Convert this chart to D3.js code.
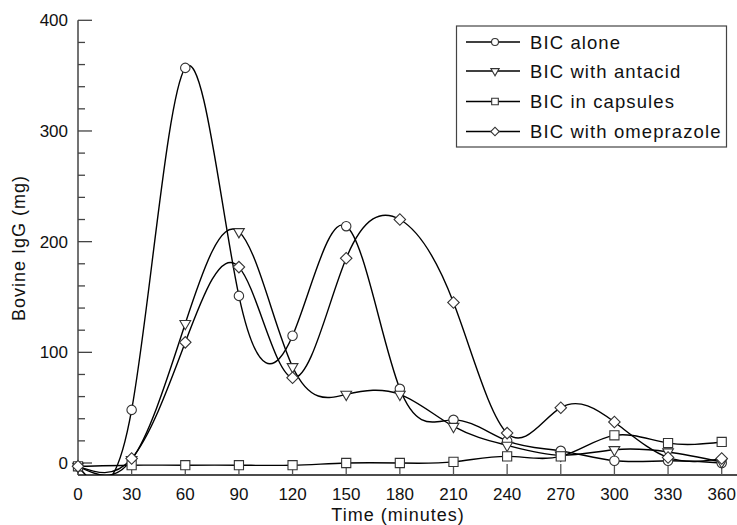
<!DOCTYPE html>
<html>
<head>
<meta charset="utf-8">
<script src="https://cdn.jsdelivr.net/npm/d3@7"></script>
<style>
  body { margin: 0; background: #fff; }
  text { font-family: "Liberation Sans", Arial, sans-serif; fill: #111; }
</style>
</head>
<body>
<svg id="canvas"></svg>
<script>
const times = [0, 30, 60, 90, 120, 150, 180, 210, 240, 270, 300, 330, 360];
const alone = [-3, 48, 357, 151, 115, 214, 67, 39, 20, 11, 2, 2, 0];
const antacid = [-3, 3, 126, 209, 87, 62, 62, 33, 16, 7, 12, 10, 1];
const capsules = [-3, -2, -2, -2, -2, 0, 0, 1, 6, 6, 25, 18, 19];
const omeprazole = [-3, 4, 109, 177, 77, 185, 220, 145, 27, 50, 37, 5, 4];
const seriesNames = ["BIC alone", "BIC with antacid", "BIC in capsules", "BIC with omeprazole"];
const yTicks = [0, 100, 200, 300, 400];

const width = 737;
const height = 525;

const canvas = d3.select("#canvas")
    .attr("width", width)
    .attr("height", height);

const xScale = d3.scaleLinear()
    .domain([0, 360])
    .range([78, 721.7]);
const yScale = d3.scaleLinear()
    .domain([0, 400])
    .range([463, 20.3]);
const yBottom = 475;

canvas.append("clipPath")
    .attr("id", "plot-clip")
    .append("rect")
    .attr("x", 78).attr("y", 0)
    .attr("width", width - 78).attr("height", yBottom);

// y axis, ticks pointing inwards
const yg = canvas.append("g").attr("transform", "translate(78,0)");
yg.append("line")
    .attr("x1", 0).attr("x2", 0)
    .attr("y1", yScale(400)).attr("y2", yBottom)
    .attr("stroke", "#444").attr("stroke-width", 1.5);
yg.selectAll(".ytick")
    .data(d3.range(0, 401, 20))
    .enter()
    .append("line")
    .attr("x1", 0)
    .attr("x2", d => d % 100 === 0 ? 14 : 7)
    .attr("y1", d => yScale(d))
    .attr("y2", d => yScale(d))
    .attr("stroke", "#444").attr("stroke-width", 1.3);
yg.selectAll(".ylab")
    .data(yTicks)
    .enter()
    .append("text")
    .attr("x", -10)
    .attr("y", d => yScale(d) + 6)
    .attr("text-anchor", "end")
    .attr("font-size", 17)
    .text(d => d);

// x axis, ticks pointing up
const xg = canvas.append("g");
xg.append("line")
    .attr("x1", 78).attr("x2", 737)
    .attr("y1", yBottom).attr("y2", yBottom)
    .attr("stroke", "#111").attr("stroke-width", 1.5);
xg.selectAll(".xtick")
    .data(times)
    .enter()
    .append("line")
    .attr("x1", d => xScale(d))
    .attr("x2", d => xScale(d))
    .attr("y1", yBottom)
    .attr("y2", yBottom - 11)
    .attr("stroke", "#555").attr("stroke-width", 1.3);
xg.selectAll(".xlab")
    .data(times)
    .enter()
    .append("text")
    .attr("x", d => xScale(d))
    .attr("y", 500)
    .attr("text-anchor", "middle")
    .attr("font-size", 17)
    .text(d => d);

canvas.append("text")
    .attr("x", 398)
    .attr("y", 521)
    .attr("text-anchor", "middle")
    .attr("font-size", 18)
    .attr("letter-spacing", 1)
    .text("Time (minutes)");
canvas.append("text")
    .attr("transform", "translate(25,248) rotate(-90)")
    .attr("text-anchor", "middle")
    .attr("font-size", 18)
    .attr("letter-spacing", 1)
    .text("Bovine IgG (mg)");

// circle, down-triangle, square, diamond (square turned 45deg)
const symbols = [
    d3.symbol().type(d3.symbolCircle).size(70),
    d3.symbol().type(d3.symbolTriangle).size(50),
    d3.symbol().type(d3.symbolSquare).size(84),
    d3.symbol().type(d3.symbolSquare).size(66)
];
const turn = [0, 180, 0, 45];
const allSeries = [alone, antacid, capsules, omeprazole];

const line = d3.line()
    .x((d, i) => xScale(times[i]))
    .y(d => yScale(d))
    .curve(d3.curveNatural);

const lines = canvas.append("g").attr("clip-path", "url(#plot-clip)");
allSeries.forEach((vals, s) => {
    lines.append("path")
        .datum(vals)
        .attr("d", line)
        .attr("fill", "none")
        .attr("stroke", "#000")
        .attr("stroke-width", 1.4);
});

allSeries.forEach((vals, s) => {
    canvas.selectAll(".m" + s)
        .data(vals)
        .enter()
        .append("path")
        .attr("d", symbols[s])
        .attr("transform", (d, i) => `translate(${xScale(times[i])},${yScale(d)}) rotate(${turn[s]})`)
        .attr("fill", "#fff")
        .attr("stroke", "#333")
        .attr("stroke-width", 1.1);
});

// legend
const legend = canvas.append("g");
legend.append("rect")
    .attr("x", 456.5).attr("y", 26)
    .attr("width", 270).attr("height", 121)
    .attr("fill", "#fff")
    .attr("stroke", "#444").attr("stroke-width", 1.2);
const legendSymbols = [
    d3.symbol().type(d3.symbolCircle).size(38),
    d3.symbol().type(d3.symbolTriangle).size(30),
    d3.symbol().type(d3.symbolSquare).size(44),
    d3.symbol().type(d3.symbolSquare).size(36)
];
const rowY = [42, 71, 101.5, 131.5];
seriesNames.forEach((name, s) => {
    legend.append("line")
        .attr("x1", 466).attr("x2", 520)
        .attr("y1", rowY[s]).attr("y2", rowY[s])
        .attr("stroke", "#000").attr("stroke-width", 1.3);
    legend.append("path")
        .attr("d", legendSymbols[s])
        .attr("transform", `translate(495,${rowY[s]}) rotate(${turn[s]})`)
        .attr("fill", "#fff")
        .attr("stroke", "#333")
        .attr("stroke-width", 1.1);
    legend.append("text")
        .attr("x", 530)
        .attr("y", rowY[s] + 6.5)
        .attr("font-size", 18.5)
        .attr("letter-spacing", 1.1)
        .text(name);
});
</script>
</body>
</html>
